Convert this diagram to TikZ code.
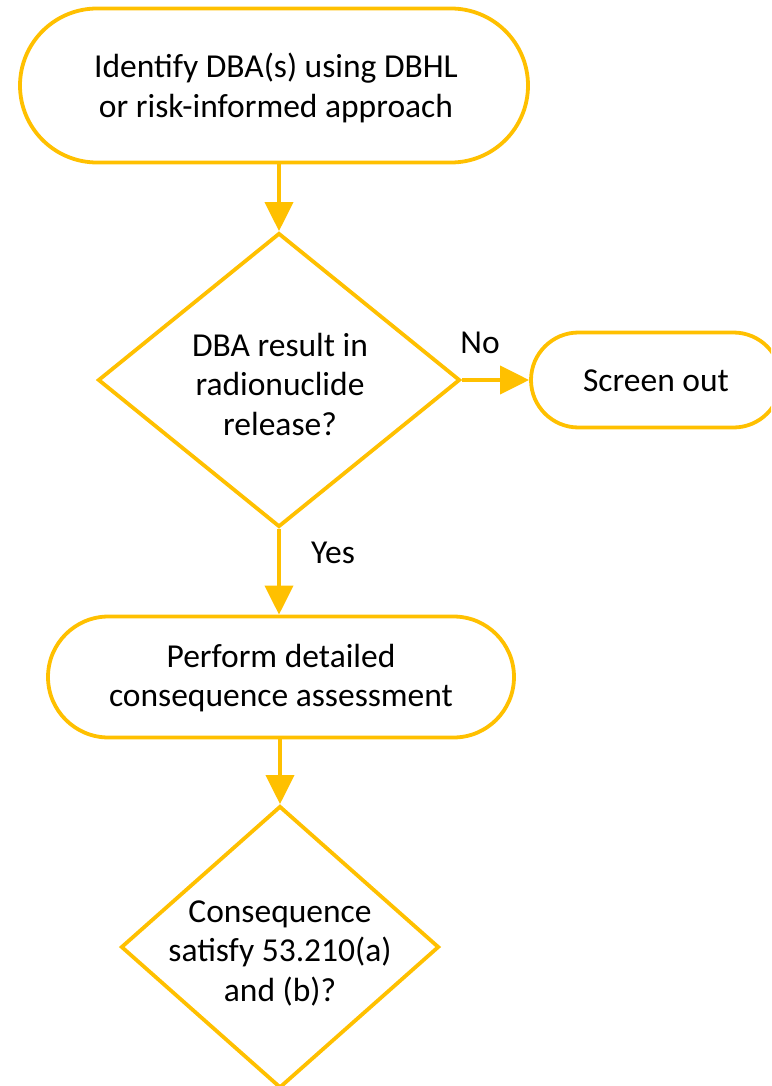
\documentclass[tikz,border=0pt]{standalone}
\usepackage{fontspec}
\setmainfont{Carlito}
\usetikzlibrary{shapes.misc,shapes.geometric,arrows.meta}
\definecolor{gold}{HTML}{FFC000}
\tikzset{
  every node/.style={font=\fontsize{33.5}{39.5}\selectfont, align=center},
  flow/.style={draw=gold, line width=3.8pt, fill=white, inner sep=0pt},
  terminal/.style={flow, rounded rectangle},
  decision/.style={flow, diamond},
  arr/.style={draw=gold, line width=3.8pt, -{Triangle[length=29pt,width=28pt]}},
  lbl/.style={inner sep=0pt}
}
\begin{document}
\begin{tikzpicture}[x=1pt,y=1pt]
  \useasboundingbox (0,0) rectangle (771,-1086);
  \clip (0,0) rectangle (771,-1086);

  \node[terminal, minimum width=508pt, minimum height=154pt] (start) at (274,-85.5) {};
  \node[lbl] (starttext) at (276,-88)
    {Identify DBA(s) using DBHL\\or risk-informed approach};

  \node[decision, minimum width=362pt, minimum height=294pt] (release) at (279,-380) {};
  \node[lbl] (releasetext) at (280,-384)
    {DBA result in\\radionuclide\\release?};

  \node[terminal, minimum width=250pt, minimum height=95pt] (screen) at (656,-380) {};
  \node[lbl] (screentext) at (656,-381) {Screen out};

  \node[terminal, minimum width=466pt, minimum height=121pt] (assess) at (281,-677) {};
  \node[lbl] (assesstext) at (281,-678)
    {Perform detailed\\consequence assessment};

  \node[decision, minimum width=318pt, minimum height=282pt] (satisfy) at (280,-947) {};
  \node[lbl] (satisfytext) at (280,-953)
    {Consequence\\satisfy 53.210(a)\\and (b)?};

  \node[lbl] (no) at (480,-343) {No};
  \node[lbl] (yes) at (333,-553) {Yes};

  \draw[arr] (release.north |- start.south) -- (release.north);
  \draw[arr] (release.east) -- (screen.west |- release.east);
  \draw[arr] (release.south) -- (release.south |- assess.north);
  \draw[arr] (satisfy.north |- assess.south) -- (satisfy.north);
\end{tikzpicture}
\end{document}
